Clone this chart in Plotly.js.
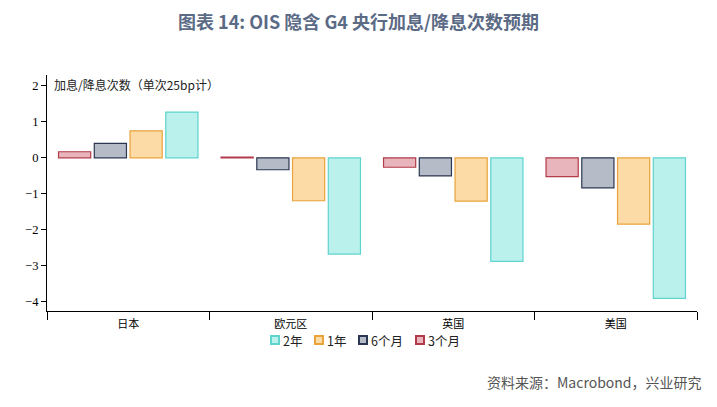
<!DOCTYPE html>
<html><head><meta charset="utf-8">
<script src="https://cdn.plot.ly/plotly-3.0.1.min.js"></script>
<style>html,body{margin:0;padding:0;background:#fff;}#chart{width:717px;height:407px;}</style>
</head><body><div id="chart"></div>
<script>
const categories = ['日本', '欧元区', '英国', '美国'];
const seriesNames = ['3个月', '6个月', '1年', '2年'];
const m3 = [0.17, 0.02, -0.26, -0.52];
const m6 = [0.40, -0.33, -0.50, -0.83];
const y1 = [0.75, -1.19, -1.20, -1.84];
const y2 = [1.27, -2.67, -2.87, -3.90];
const yTicks = [-4, -3, -2, -1, 0, 1, 2];

const values = [m3, m6, y1, y2];
const fills = ['#e9b5bd', '#b5bbc7', '#fcdba6', '#baf1ec'];
const lines = ['#b23a4a', '#2b3652', '#e9a33a', '#5fd3cd'];

const W = 717, H = 407, M = {l: 47, r: 20, t: 75, b: 96};
const pw = W - M.l - M.r, ph = H - M.t - M.b;
const px2x = p => (p - M.l) / pw;
const py2y = p => (H - M.b - p) / ph;

const traces = values.map((v, i) => ({
  type: 'bar', x: categories, y: v, name: seriesNames[i],
  marker: {color: fills[i], line: {color: lines[i], width: 1.2}}
}));

// manual compact legend (order reversed: 2年, 1年, 6个月, 3个月)
const legendSymbolPx = [274.5, 318.5, 362.5, 420];
const legendAnn = [];
[3, 2, 1, 0].forEach((si, k) => {
  legendAnn.push({text: ' ', xref: 'paper', yref: 'paper', x: px2x(legendSymbolPx[k]), y: py2y(340),
    xanchor: 'center', yanchor: 'middle', showarrow: false, width: 6, height: 6, borderpad: 0,
    bgcolor: fills[si], bordercolor: lines[si], borderwidth: 2, font: {size: 4}});
  legendAnn.push({text: seriesNames[si], xref: 'paper', yref: 'paper', x: px2x(legendSymbolPx[k] + 6), y: py2y(340),
    xanchor: 'left', yanchor: 'middle', showarrow: false, font: {family: 'Noto Sans CJK SC', size: 12.5, color: '#222'}});
});

const layout = {
  width: W, height: H,
  margin: M,
  paper_bgcolor: '#fff', plot_bgcolor: '#fff',
  barmode: 'group', bargap: 0.12, bargroupgap: 0.1,
  showlegend: false,
  title: {text: '图表 14: OIS 隐含 G4 央行加息/降息次数预期', x: 0.5, xanchor: 'center', y: 0.945, yanchor: 'middle',
    font: {family: 'Noto Sans CJK SC', size: 18, color: '#5b6a85', weight: 'bold'}},
  xaxis: {type: 'category', showline: true, linecolor: '#000', linewidth: 1.2, ticks: 'outside', tickson: 'boundaries',
    ticklen: 8, tickcolor: '#000', showgrid: false, zeroline: false, ticklabelstandoff: 3,
    tickfont: {family: 'Noto Sans CJK SC', size: 11, color: '#000'}},
  yaxis: {range: [-4.25, 2.3], tickvals: yTicks, showline: true, linecolor: '#000', linewidth: 1.2, ticks: 'outside',
    ticklen: 5, tickcolor: '#000', showgrid: false, zeroline: false,
    tickfont: {family: 'Liberation Serif', size: 12.5, color: '#000'}},
  annotations: [
    {text: '加息/降息次数（单次25bp计）', xref: 'paper', yref: 'paper', x: 0.008, y: py2y(84), xanchor: 'left', yanchor: 'middle',
      showarrow: false, font: {family: 'Noto Sans CJK SC', size: 12, color: '#222'}},
    {text: '资料来源：Macrobond，兴业研究', xref: 'paper', yref: 'paper', x: px2x(704), y: py2y(382), xanchor: 'right', yanchor: 'middle',
      showarrow: false, font: {family: 'Noto Sans CJK SC', size: 14, color: '#555'}}
  ].concat(legendAnn)
};
Plotly.newPlot('chart', traces, layout, {displayModeBar: false});
</script></body></html>
